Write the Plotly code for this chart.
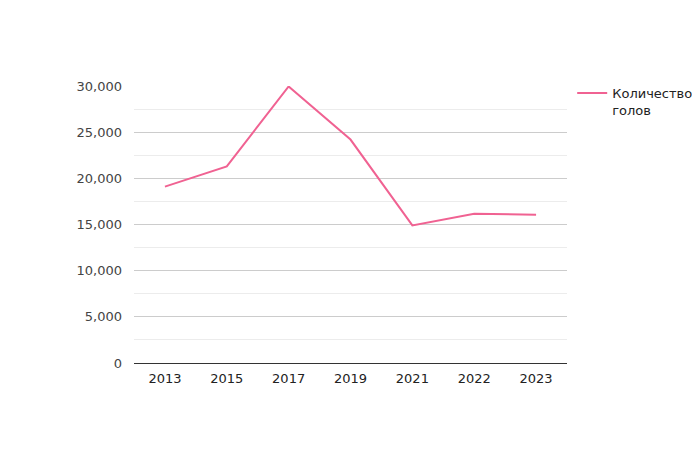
import plotly.graph_objects as go

years = ["2013", "2015", "2017", "2019", "2021", "2022", "2023"]
goals = [19100, 21300, 29950, 24200, 14900, 16170, 16060]
series_name = "Количество<br>голов"

fig = go.Figure()
fig.add_trace(go.Scatter(
    x=years, y=goals, mode="lines", name=series_name,
    line=dict(color="#f06292", width=2),
    showlegend=True,
))

fig.update_layout(
    width=700, height=450,
    margin=dict(l=126, r=141, t=78, b=95, autoexpand=False),
    paper_bgcolor="white", plot_bgcolor="white",
    font=dict(family="DejaVu Sans", size=13, color="#444"),
    showlegend=True,
    legend=dict(x=1.012, y=1.029, xanchor="left", yanchor="top", valign="top",
                font=dict(size=13, color="#222"), bgcolor="rgba(0,0,0,0)"),
    xaxis=dict(type="category", range=[-0.5, 6.5], showgrid=False,
               showline=True, linecolor="#333", linewidth=1,
               ticks="", tickfont=dict(color="#222"), ticklabelstandoff=3),
    yaxis=dict(range=[0, 30000], dtick=5000, tickformat=",",
               showgrid=True, gridcolor="#cccccc", gridwidth=1,
               zeroline=False, showline=False, ticks="",
               tickfont=dict(color="#444"), ticklabelstandoff=11,
               minor=dict(dtick=2500, showgrid=True, gridcolor="#ececec", gridwidth=1)),
)

fig.write_html("out.html")
